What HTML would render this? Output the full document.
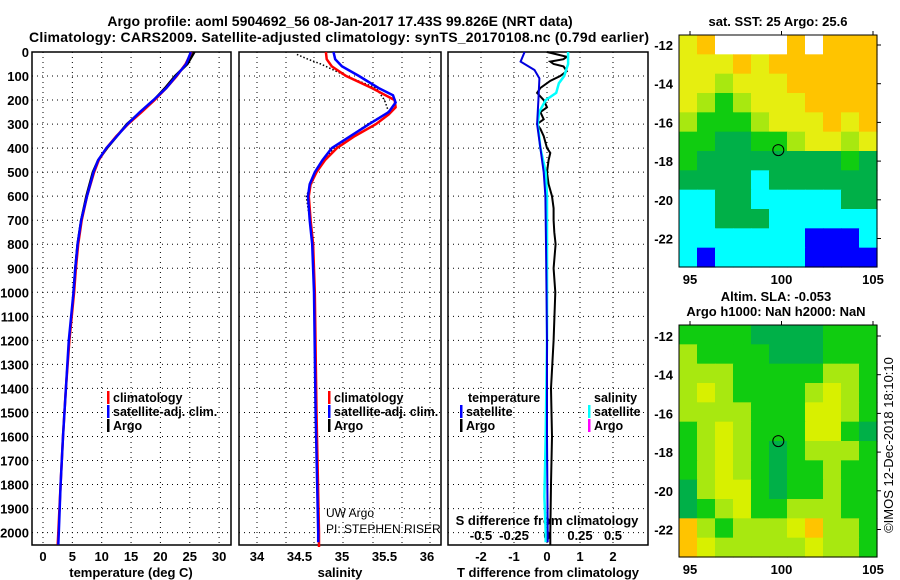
<!DOCTYPE html>
<html><head><meta charset="utf-8"><style>
html,body{margin:0;padding:0;background:#fff;}
svg{display:block;font-family:"Liberation Sans",sans-serif;}
.b{font-weight:bold;font-size:13px;}
.t{font-weight:bold;font-size:14px;}
.l{font-size:12.5px;font-weight:bold;}
.n{font-size:12px;font-weight:normal;}
</style></head><body>
<svg id="c" width="900" height="580" viewBox="0 0 900 580" xmlns="http://www.w3.org/2000/svg">
<text class="t" x="340" y="26" text-anchor="middle">Argo profile: aoml 5904692_56 08-Jan-2017 17.43S 99.826E (NRT data)</text>
<text class="t" x="339" y="42" text-anchor="middle" textLength="620">Climatology: CARS2009. Satellite-adjusted climatology: synTS_20170108.nc (0.79d earlier)</text>
<text class="b" x="778" y="26" text-anchor="middle">sat. SST: 25 Argo: 25.6</text>
<text class="b" x="776" y="301" text-anchor="middle">Altim. SLA: -0.053</text>
<text class="b" x="776" y="316" text-anchor="middle">Argo h1000: NaN h2000: NaN</text>
<text x="893" y="445" font-size="13" text-anchor="middle" transform="rotate(-90 893 445)">©IMOS 12-Dec-2018 18:10:10</text>
<g id="g"></g>
</svg>
<script>
// ---- data ----
var depthTicks=[0,100,200,300,400,500,600,700,800,900,1000,1100,1200,1300,1400,1500,1600,1700,1800,1900,2000];
var tempTicks=[0,5,10,15,20,25,30];
var salTicks=[34,34.5,35,35.5,36];
var tdiffTicks=[-2,-1,0,1,2];
var sdiffTicks=[-0.5,-0.25,0,0.25,0.5];
var sdiffLabels=["-0.5","-0.25","0","0.25","0.5"];
var latTicks=[-12,-14,-16,-18,-20,-22];
var lonTicks=[95,100,105];
var tDepth=[0,50,100,150,200,250,300,350,400,450,500,600,700,800,900,1000,1200,1400,1600,1800,2000,2050];
var tClim=[25.3,24.3,22.8,21.0,19.0,16.8,14.5,12.5,10.8,9.5,8.7,7.5,6.6,6.0,5.6,5.3,4.5,3.9,3.4,3.0,2.6,2.5];
var tSat=[25.2,24.4,22.7,21.0,18.8,16.5,14.4,12.6,10.8,9.4,8.6,7.5,6.5,5.9,5.5,5.2,4.4,3.9,3.4,3.0,2.7,2.6];
var tArgo=[25.8,24.6,22.5,20.8,18.9,16.6,14.3,12.6,10.9,9.4,8.5,7.4,6.5,5.9,5.5,5.2];
var sDepth=[0,30,60,100,150,200,230,260,300,350,400,450,500,550,600,700,800,1000,1500,2000,2060];
var sClim=[34.81,34.82,34.88,35.05,35.35,35.62,35.63,35.55,35.4,35.15,34.94,34.8,34.7,34.63,34.61,34.63,34.66,34.68,34.7,34.73,34.73];
var sSatDepth=[0,30,60,100,150,180,210,250,300,350,400,450,500,550,600,700,800,1000,1500,2000,2040];
var sSat=[34.9,34.92,35.0,35.2,35.43,35.6,35.63,35.55,35.32,35.1,34.88,34.77,34.68,34.62,34.6,34.62,34.65,34.67,34.69,34.72,34.72];
var sArgoDepth=[10,30,50,100,150,200,250,300,400,500,600,700,800];
var sArgo=[34.47,34.6,34.75,35.05,35.4,35.5,35.55,35.3,34.9,34.7,34.58,34.62,34.65];
var dtSatDepth=[0,40,75,110,200,300,400,500,600,800,1200,1600,2000,2040];
var dtSat=[-0.68,-0.8,-0.38,-0.23,-0.26,-0.3,-0.2,-0.1,-0.05,-0.03,0.0,0.0,0.02,0.02];
var dsSatDepth=[0,50,100,130,170,200,250,300,400,500,600,800,1200,1600,1850,2000,2040];
var dsSat=[0.16,0.16,0.13,0.09,0.07,-0.01,-0.06,-0.07,-0.05,-0.01,0.0,0.0,0.0,-0.01,-0.02,-0.01,-0.01];
var dtArgoDepth=[0,10,20,30,40,50,60,80,100,120,150,170,200,230,250,280,300,320,350,400,420,450,500,550,600,650,700,750,800,900,1000,1200,1400,1600,1800,2000,2050];
var dtArgo=[0.0,0.3,0.6,0.5,0.1,0.2,0.5,0.6,0.4,0.1,-0.2,-0.3,-0.1,0.0,-0.2,-0.1,-0.3,-0.2,-0.1,0.0,0.1,0.05,0.0,0.05,0.15,0.2,0.2,0.22,0.26,0.2,0.25,0.2,0.12,0.15,0.12,0.1,0.1];
// SST map categories (rows from lat -11.5 southward, cols from lon 94.5 eastward)
var sstGrid=["yOwwwwOwOOO","yyyOyOOOOOO","yyLyyyOOOOO","yLGLyyyOOOO","LGGGLyyyOyO","GGDDGGLyyLy","GDDDDDDDDGD","DDDDCDDDDDD","CCDDCCCCCDD","CCDDDCCCCCC","CCCCCCCBBBC","CBCCCCCBBBB"];
var slaGrid=["GGGGDDDDGGG","LGGGGDDDGGG","LLLGGGGGLLG","LYLGGGGLYLG","LLLLGGGYYLG","GLYLGGGYYGD","GLYLGDGLLLG","GLYLGDGGLGG","DLYYGDGGLGG","DGLYGGLLLGG","OLGLLLYOLLG","OYLLLLLYLLG"];
var palette={O:"#ffc400",y:"#e6ee10",L:"#a8e810",G:"#10cc10",D:"#00b048",C:"#00ffff",B:"#0000ff",w:"#ffffff",Y:"#d8f000"};

// ---- helpers ----
var NS="http://www.w3.org/2000/svg",G=document.getElementById("g");
function mk(t,a,p){var e=document.createElementNS(NS,t);for(var k in a)e.setAttribute(k,a[k]);(p||G).appendChild(e);return e;}
function yD(d){return 52+d*0.2403;}
var PT=52,PB=545;
function line(xs,ds,fx,col,w,dash,nm){var p=[];for(var i=0;i<xs.length;i++)p.push(fx(xs[i]).toFixed(1)+","+yD(ds[i]).toFixed(1));
 var e=mk("polyline",{points:p.join(" "),fill:"none",stroke:col,"stroke-width":w});if(dash)e.setAttribute("stroke-dasharray",dash);
 
 }
function txt(x,y,s,cls,anc,nm){var e=mk("text",{x:x,y:y,"class":cls||"b","text-anchor":anc||"middle"});e.textContent=s;
 
 return e;}
function panel(x0,x1,gx,nm){
 var f=mk("rect",{x:x0,y:PT,width:x1-x0,height:PB-PT,fill:"none",stroke:"#000","stroke-width":1.5});
 
 
 depthTicks.forEach(function(d){var e=mk("line",{x1:x0,x2:x1,y1:yD(d),y2:yD(d),stroke:"#000","stroke-dasharray":"1,4"});
  
  });
 gx.forEach(function(x){var e=mk("line",{x1:x,x2:x,y1:PT,y2:PB,stroke:"#000","stroke-dasharray":"1,4"});
  
  });
}
// temperature panel
function xT(t){return 43+t*5.87;}
panel(32,231,tempTicks.map(xT),"temp-panel");
depthTicks.forEach(function(d){txt(29,yD(d)+5,String(d),"b","end","depth-tick-label");});
tempTicks.forEach(function(t){txt(xT(t),561,String(t),"b","middle","temp-tick-label");});
txt(131,577,"temperature (deg C)","b","middle","temp-axis-title");
line(tArgo,tDepth.slice(0,tArgo.length),xT,"#000",2.5,null,"temp-argo-line");
line(tClim,tDepth,xT,"#f00",2.5,null,"temp-climatology-line");
line(tSat,tDepth,xT,"#00f",2.5,null,"temp-satellite-line");
// salinity panel
function xS(s){return 257+(s-34)*85;}
panel(239,441,[257,286,314,343,373,402,430],"sal-panel");
salTicks.forEach(function(s){txt(xS(s),561,String(s),"b","middle","sal-tick-label");});
txt(340,577,"salinity","b","middle","sal-axis-title");
line(sArgo,sArgoDepth,xS,"#000",1.5,"1.5,2","sal-argo-line");
line(sClim,sDepth,xS,"#f00",2.5,null,"sal-climatology-line");
line(sSat,sSatDepth,xS,"#00f",2.5,null,"sal-satellite-line");
// diff panel
function xDT(t){return 547+t*33;}
function xDS(s){return 547+s*132;}
panel(448,648,tdiffTicks.map(xDT),"diff-panel");
tdiffTicks.forEach(function(t){txt(xDT(t),561,String(t),"b","middle","tdiff-tick-label");});
txt(548,577,"T difference from climatology","b","middle","tdiff-axis-title");
sdiffTicks.forEach(function(s,i){txt(xDS(s),540,sdiffLabels[i],"b","middle","sdiff-tick-label");});
txt(547,525,"S difference from climatology","b","middle","sdiff-axis-title");
line(dtArgo,dtArgoDepth,xDT,"#000",2,null,"tdiff-argo-line");
line(dsSat,dsSatDepth,xDS,"#00ffff",2.5,null,"sdiff-satellite-line");
line(dtSat,dtSatDepth,xDT,"#0000dd",2,null,"tdiff-satellite-line");
// legends
function leg(x,y,col,s,nm){var r=mk("rect",{x:x,y:y-11,width:2.5,height:13,fill:col});
 
 
 txt(x+6,y,s,"l","start",nm);}
leg(107,402,"#f00","climatology","temp-legend-climatology");
leg(107,416,"#00f","satellite-adj. clim.","temp-legend-satellite");
leg(107,430,"#000","Argo","temp-legend-argo");
leg(328,402,"#f00","climatology","sal-legend-climatology");
leg(328,416,"#00f","satellite-adj. clim.","sal-legend-satellite");
leg(328,430,"#000","Argo","sal-legend-argo");
txt(468,402,"temperature","l","start","diff-legend-temp-header");
txt(594,402,"salinity","l","start","diff-legend-sal-header");
leg(460,416,"#00f","satellite","diff-legend-temp-satellite");
leg(460,430,"#000","Argo","diff-legend-temp-argo");
leg(588,416,"#00ffff","satellite","diff-legend-sal-satellite");
leg(588,430,"#ff00ff","Argo","diff-legend-sal-argo");
txt(326,517,"UW Argo","n","start","float-owner");
txt(326,533,"PI: STEPHEN RISER","n","start","float-pi");
// maps
function map(grid,top,bottom,latRef,nm){
 var x0=679,x1=877,rows=grid.length,cols=grid[0].length;
 var cw=(x1-x0)/cols,ch=(bottom-top)/rows;
 grid.forEach(function(r,i){for(var j=0;j<cols;j++){
  var e=mk("rect",{x:(x0+j*cw).toFixed(2),y:(top+i*ch).toFixed(2),width:(cw+0.6).toFixed(2),height:(ch+0.6).toFixed(2),fill:palette[r[j]]});
  
  }});
 var f=mk("rect",{x:x0,y:top,width:x1-x0,height:bottom-top,fill:"none",stroke:"#000","stroke-width":1});
 
 
 function lonX(l){return 690+(l-95)*18.3;}
 function latY(l){return latRef+(-12-l)*19.35;}
 latTicks.forEach(function(l){txt(673,latY(l)+5,String(l),"b","end",nm+'-lat-label');
  var e=mk("line",{x1:x1,x2:x1+4,y1:latY(l),y2:latY(l),stroke:"#000"});
  
  });
 lonTicks.forEach(function(l){txt(lonX(l),bottom+17,String(l),"b","middle",nm+'-lon-label');
  var e=mk("line",{x1:lonX(l),x2:lonX(l),y1:top-4,y2:top,stroke:"#000"});
  
  });
 var c=mk("circle",{cx:lonX(99.826),cy:latY(-17.43),r:5.5,fill:"none",stroke:"#000","stroke-width":1});
 
 
}
map(sstGrid,35,267,45,"sst-map");
map(slaGrid,325,557,336,"sla-map");
</script>
</body></html>
